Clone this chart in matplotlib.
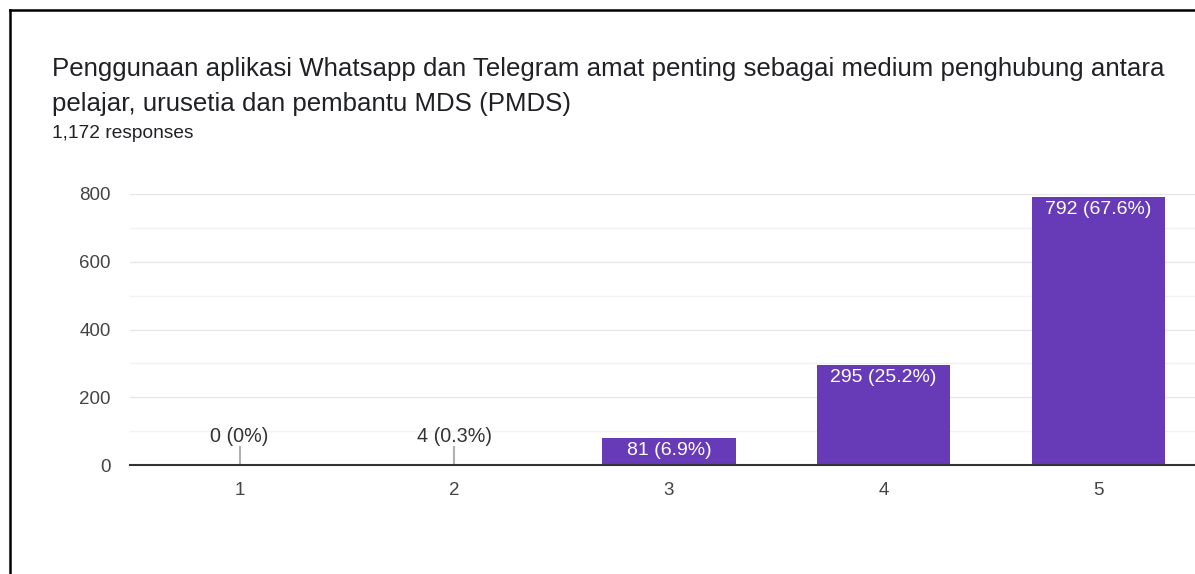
import matplotlib.pyplot as plt
from matplotlib.lines import Line2D
import numpy as np

plt.rcParams['font.family'] = ['Liberation Sans', 'DejaVu Sans']

categories = ["1", "2", "3", "4", "5"]
counts = [0, 4, 81, 295, 792]
percents = ["0%", "0.3%", "6.9%", "25.2%", "67.6%"]
yticks = [0, 200, 400, 600, 800]

title = ("Penggunaan aplikasi Whatsapp dan Telegram amat penting sebagai medium penghubung antara\n"
         "pelajar, urusetia dan pembantu MDS (PMDS)")
subtitle = "1,172 responses"

purple = "#673ab7"


def plotter():
    fig = plt.figure(figsize=(11.95, 5.74), dpi=100)
    ax = fig.add_axes([130 / 1195, 1 - 465 / 574, 1 - 130 / 1195, (465 - 194) / 574])

    x = np.arange(1, len(categories) + 1)
    ax.bar(x, counts, width=0.62, color=purple, zorder=3)

    for xi, c, p in zip(x, counts, percents):
        lab = f"{c} ({p})"
        if c < 10:
            # tiny values: label above with a little grey stem
            ax.plot([xi, xi], [0, 52], color="#b0b0b0", lw=1.5, zorder=4)
            ax.text(xi, 56, lab, ha="center", va="bottom", fontsize=14.2, color="#333333")
        else:
            ax.text(xi, c - 12, lab, ha="center", va="top", fontsize=14, color="white", zorder=5)

    ax.set_xlim(0.49, 5.45)
    ax.set_ylim(0, 800)
    ax.set_yticks(yticks)
    ax.set_yticks(np.arange(100, 800, 200), minor=True)
    ax.set_xticks(x)
    ax.set_xticklabels(categories)
    ax.grid(axis="y", which="major", color="#e6e6e6", lw=1, zorder=0)
    ax.grid(axis="y", which="minor", color="#f2f2f2", lw=1, zorder=0)
    for s in ["top", "right", "left"]:
        ax.spines[s].set_visible(False)
    ax.spines["bottom"].set_color("#333333")
    ax.spines["bottom"].set_linewidth(1.5)
    ax.spines["bottom"].set_zorder(6)
    ax.tick_params(axis="both", which="both", length=0, labelsize=13.5, colors="#444444")
    ax.tick_params(axis="y", pad=14)
    ax.tick_params(axis="x", pad=12)

    fig.text(52 / 1195, 1 - 86.5 / 574, title, ha="left", va="center", fontsize=18.65,
             color="#202124", linespacing=1.6)
    fig.text(52 / 1195, 1 - 133 / 574, subtitle, ha="left", va="center", fontsize=13.8,
             color="#202124")

    # frame lines from the screenshot
    fig.add_artist(Line2D([9.5 / 1195, 9.5 / 1195], [0, 1 - 10 / 574], color="black", lw=1.8,
                          transform=fig.transFigure))
    fig.add_artist(Line2D([9.5 / 1195, 1], [1 - 10 / 574, 1 - 10 / 574], color="black", lw=1.8,
                          transform=fig.transFigure))

    fig.savefig("out.png", dpi=100)


def main():
    plotter()


if __name__ == '__main__':
    main()
